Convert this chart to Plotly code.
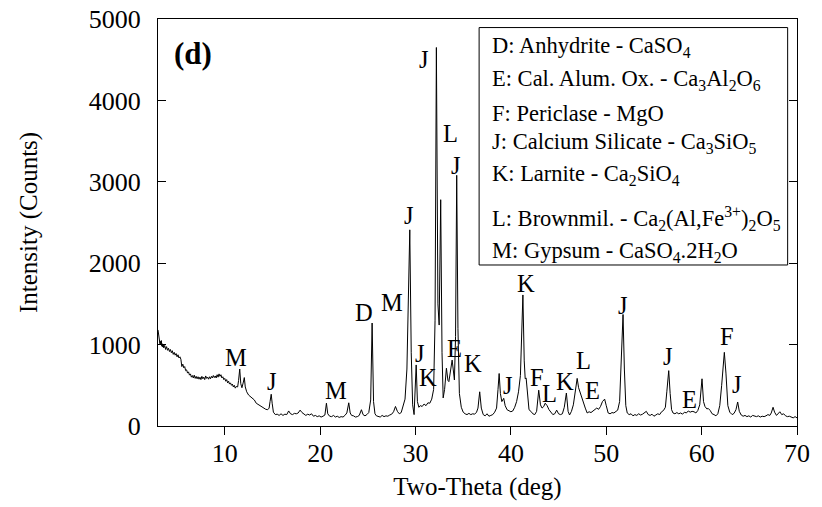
import plotly.graph_objects as go

two_theta = [
    3.0, 3.05, 3.1, 3.15, 3.2, 3.25, 3.3, 3.35, 3.4, 3.45,
    3.5, 3.55, 3.6, 3.7, 3.8, 3.9, 4.0, 4.1, 4.2, 4.3,
    4.4, 4.5, 4.6, 4.7, 4.8, 4.9, 5.0, 5.1, 5.2, 5.3,
    5.4, 5.45, 5.5, 5.6, 5.7, 5.8, 5.9, 6.0, 6.1, 6.2,
    6.3, 6.4, 6.5, 6.6, 6.7, 6.8, 6.9, 7.0, 7.1, 7.2,
    7.3, 7.4, 7.5, 7.6, 7.7, 7.8, 7.9, 8.0, 8.1, 8.2,
    8.3, 8.4, 8.5, 8.6, 8.7, 8.8, 8.9, 9.0, 9.1, 9.2,
    9.3, 9.4, 9.5, 9.6, 9.7, 9.8, 9.9, 10.0, 10.1, 10.2,
    10.3, 10.4, 10.5, 10.6, 10.7, 10.8, 10.9, 11.0, 11.1, 11.2,
    11.35, 11.45,
    11.57, 11.68, 11.8, 11.95, 12.05, 12.15, 12.3, 12.5, 12.7, 12.9,
    13.1, 13.3, 13.5, 13.7, 13.9, 14.1, 14.3, 14.5, 14.65, 14.75,
    14.87, 14.97, 15.1, 15.3, 15.5, 15.7, 15.9, 16.1, 16.3, 16.5,
    16.7, 16.9, 17.1, 17.3, 17.5, 17.7, 17.9, 18.1, 18.3, 18.5,
    18.7, 18.9, 19.1, 19.3, 19.5, 19.7, 19.9, 20.1, 20.3, 20.5,
    20.66, 20.8, 21.0, 21.2, 21.4, 21.6, 21.8, 22.0, 22.2, 22.4,
    22.6, 22.8, 23.0, 23.15, 23.3, 23.5, 23.7, 23.9, 24.1, 24.33,
    24.5, 24.7, 24.9, 25.1, 25.3, 25.45, 25.6, 25.75, 25.9, 26.1,
    26.3, 26.5, 26.7, 26.9, 27.1, 27.3, 27.5, 27.7, 27.9, 28.1,
    28.3, 28.5, 28.7, 28.9, 29.1, 29.25, 29.4, 29.55, 29.7, 29.85,
    29.95, 30.07, 30.2, 30.35, 30.5, 30.7, 30.9, 31.1, 31.3, 31.5,
    31.7, 31.9, 32.05, 32.19, 32.35, 32.48, 32.64, 32.78, 32.9, 33.05,
    33.24, 33.4, 33.5, 33.65, 33.73, 33.84, 33.95, 34.08, 34.2, 34.32,
    34.45, 34.6, 34.8, 35.0, 35.2, 35.4, 35.6, 35.8, 36.0, 36.2,
    36.4, 36.55, 36.73, 36.9, 37.1, 37.3, 37.5, 37.7, 37.9, 38.1,
    38.3, 38.5, 38.65, 38.77, 38.9, 39.05, 39.25, 39.4, 39.6, 39.8,
    40.0, 40.2, 40.4, 40.6, 40.8, 41.0, 41.15, 41.26, 41.4, 41.5,
    41.6, 41.75, 41.9, 42.1, 42.3, 42.5, 42.7, 42.92, 43.1, 43.27,
    43.45, 43.6, 43.8, 44.0, 44.2, 44.4, 44.6, 44.8, 45.0, 45.2,
    45.4, 45.6, 45.82, 46.0, 46.15, 46.35, 46.55, 46.75, 46.95, 47.1,
    47.29, 47.45, 47.6, 47.8, 48.0, 48.2, 48.4, 48.6, 48.8, 49.0,
    49.2, 49.4, 49.6, 49.83, 50.0, 50.2, 50.4, 50.6, 50.8, 51.0,
    51.2, 51.4, 51.6, 51.76, 51.9, 52.05, 52.2, 52.4, 52.6, 52.8,
    53.0, 53.2, 53.4, 53.6, 53.8, 54.0, 54.2, 54.4, 54.6, 54.8,
    55.0, 55.2, 55.4, 55.6, 55.8, 56.0, 56.2, 56.35, 56.55, 56.7,
    56.85, 57.0, 57.2, 57.4, 57.6, 57.8, 58.0, 58.2, 58.4, 58.6,
    58.8, 59.0, 59.2, 59.4, 59.6, 59.8, 60.04, 60.2, 60.35, 60.55,
    60.7, 60.9, 61.1, 61.3, 61.5, 61.7, 61.9, 62.1, 62.38, 62.55,
    62.75, 62.95, 63.2, 63.4, 63.6, 63.78, 63.95, 64.15, 64.35, 64.55,
    64.75, 64.95, 65.15, 65.35, 65.55, 65.75, 65.95, 66.15, 66.35, 66.55,
    66.75, 66.95, 67.15, 67.3, 67.49, 67.65, 67.85, 68.05, 68.2, 68.4,
    68.6, 68.8, 69.0, 69.2, 69.4, 69.6, 69.8, 70.0,
]
counts = [
    1180, 1120, 1060, 1090, 1010, 1040, 1000, 1050, 980, 1010,
    970, 1000, 960, 990, 940, 975, 930, 955, 915, 940,
    900, 925, 880, 905, 870, 890, 850, 875, 835, 850,
    820, 760, 730, 760, 715, 730, 680, 690, 650, 665,
    625, 640, 600, 620, 590, 625, 585, 610, 580, 605,
    575, 600, 570, 610, 580, 600, 570, 615, 585, 600,
    575, 605, 580, 610, 590, 620, 595, 615, 590, 630,
    600, 640, 610, 630, 590, 605, 570, 585, 550, 570,
    530, 550, 515, 530, 500, 515, 480, 500, 465, 485,
    480, 560,
    700, 520, 470, 540, 595, 480, 420, 380, 360, 330,
    320, 280, 265, 240, 225, 215, 205, 200, 220, 300,
    390, 280, 170, 140, 145, 130, 150, 130, 145, 140,
    185, 150, 140, 155, 150, 160, 195, 165, 150, 130,
    145, 135, 150, 120, 130, 115, 125, 110, 120, 135,
    280, 150, 120, 115, 130, 110, 120, 105, 115, 110,
    130, 160, 285, 160, 130, 125, 110, 115, 130, 200,
    140, 125, 140, 165, 320, 1265, 300, 150, 125, 120,
    110, 130, 115, 125, 120, 135, 145, 175, 240, 180,
    150, 165, 250, 330, 700, 1400, 2410, 900, 260, 140,
    350, 750, 300, 230, 250, 240, 270, 250, 285, 280,
    330, 450, 1300, 4650, 1500, 1240, 2780, 900, 345, 450,
    710, 560, 545, 680, 750, 810, 700, 565, 1100, 3080,
    1200, 400, 230, 170, 150, 140, 155, 140, 150, 145,
    170, 220, 420, 220, 140, 125, 150, 120, 130, 140,
    170, 220, 450, 645, 400, 300, 340, 250, 200, 190,
    175, 185, 230, 300, 420, 620, 1100, 1610, 800, 580,
    590, 350, 200, 180, 150, 140, 180, 440, 260, 220,
    240, 280, 250, 200, 175, 140, 150, 195, 150, 140,
    150, 230, 405, 180, 135, 180, 260, 440, 585, 470,
    400, 330, 280, 220, 160, 175, 165, 180, 200, 220,
    205, 240, 300, 330, 250, 160, 150, 165, 160, 175,
    195, 300, 900, 1370, 700, 250, 160, 140, 150, 125,
    140, 130, 150, 135, 145, 160, 180, 140, 130, 145,
    120, 135, 150, 140, 175, 190, 230, 420, 680, 400,
    200, 160, 150, 165, 150, 160, 145, 170, 160, 185,
    170, 180, 175, 160, 190, 260, 580, 300, 240, 210,
    215, 190, 150, 140, 125, 150, 250, 500, 905, 650,
    250, 170, 140, 155, 200, 295, 180, 135, 120, 130,
    115, 125, 110, 130, 120, 115, 125, 110, 120, 115,
    125, 140, 130, 160, 230, 170, 130, 150, 175, 140,
    150, 125, 115, 120, 110, 100, 115, 100,
]

# peak identification letters and where they sit (two-theta, counts)
peak_letters = ["M", "J", "M", "D", "M", "J", "J", "K", "J", "L", "J", "E", "K",
                "J", "K", "F", "L", "K", "L", "E", "J", "J", "E", "F", "J"]
peak_x = [11.2, 14.97, 21.7, 24.6, 27.5, 29.36, 30.5, 31.3, 30.86, 33.7, 34.26, 34.05, 36.07,
          39.74, 41.6, 42.7, 44.1, 45.65, 47.65, 48.55, 51.72, 56.48, 58.68, 62.7, 63.7]
peak_y = [840, 550, 435, 1395, 1520, 2590, 890, 590, 4500, 3590, 3205, 955, 770,
          495, 1755, 600, 395, 545, 800, 440, 1485, 850, 330, 1095, 510]

key_lines = [
    "D: Anhydrite - CaSO<sub>4</sub>",
    "E: Cal. Alum. Ox. - Ca<sub>3</sub>Al<sub>2</sub>O<sub>6</sub>",
    "F: Periclase - MgO",
    "J: Calcium Silicate - Ca<sub>3</sub>SiO<sub>5</sub>",
    "K: Larnite - Ca<sub>2</sub>SiO<sub>4</sub>",
    "L: Brownmil. - Ca<sub>2</sub>(Al,Fe<sup>3+</sup>)<sub>2</sub>O<sub>5</sub>",
    "M: Gypsum - CaSO<sub>4</sub>.2H<sub>2</sub>O",
]
key_y = [4652, 4250, 3833, 3473, 3083, 2551, 2142]

x_ticks = [10, 20, 30, 40, 50, 60, 70]
y_ticks = [0, 1000, 2000, 3000, 4000, 5000]

FONT = "Liberation Serif"

fig = go.Figure()
fig.add_trace(go.Scatter(x=two_theta, y=counts, mode="lines",
                         line=dict(color="black", width=1), showlegend=False,
                         hoverinfo="skip"))

annotations = []
for t, x, y in zip(peak_letters, peak_x, peak_y):
    annotations.append(dict(x=x, y=y, xref="x", yref="y", text=t, showarrow=False,
                            xanchor="center", yanchor="middle",
                            font=dict(family=FONT, size=24.5, color="black")))
for t, y in zip(key_lines, key_y):
    annotations.append(dict(x=37.85, y=y, xref="x", yref="y", text=t, showarrow=False,
                            xanchor="left", yanchor="middle",
                            font=dict(family=FONT, size=22.5, color="black")))
annotations.append(dict(x=6.67, y=4578, xref="x", yref="y", text="<b>(d)</b>",
                        showarrow=False, xanchor="center", yanchor="middle",
                        font=dict(family=FONT, size=31, color="black")))

fig.update_layout(
    width=822, height=507,
    margin=dict(l=158, r=25, t=19, b=81),
    paper_bgcolor="white", plot_bgcolor="white",
    font=dict(family=FONT, size=25, color="black"),
    annotations=annotations,
    shapes=[dict(type="rect", xref="x", yref="y", x0=36.67, x1=69.02, y0=1978, y1=4895,
                 line=dict(color="black", width=1), fillcolor="rgba(0,0,0,0)")],
    xaxis=dict(range=[3, 70], tickvals=x_ticks, ticks="outside", ticklen=8,
               tickcolor="black", showline=True, linecolor="black", linewidth=1,
               mirror=True, showgrid=False, zeroline=False, automargin=False,
               ticklabelstandoff=-4, ticklabeloverflow="allow",
               title=dict(text="Two-Theta (deg)", standoff=10,
                          font=dict(family=FONT, size=25, color="black")),
               tickfont=dict(family=FONT, size=26, color="black")),
    yaxis=dict(range=[0, 5000], tickvals=y_ticks, ticks="inside", ticklen=8,
               tickcolor="black", showline=True, linecolor="black", linewidth=1,
               mirror="ticks", showgrid=False, zeroline=False, automargin=False,
               ticklabelstandoff=11, ticklabeloverflow="allow",
               title=dict(text="Intensity (Counts)", standoff=44,
                          font=dict(family=FONT, size=25, color="black")),
               tickfont=dict(family=FONT, size=26, color="black")),
)

fig.write_html("out.html",
               config={"displayModeBar": False},
               post_script="document.body.style.margin='0';document.body.style.overflow='hidden';")
